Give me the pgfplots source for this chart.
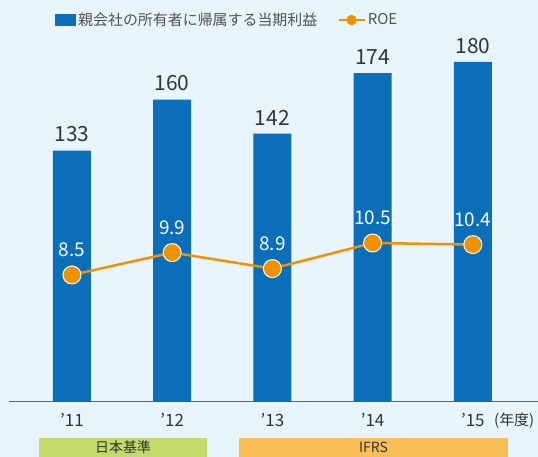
\documentclass[border=0pt]{standalone}
\usepackage{pgfplots}
\pgfplotsset{compat=1.18}
\usepackage{fontspec}
\setmainfont{Noto Sans CJK JP}
\definecolor{bg}{HTML}{E8F4FC}
\definecolor{barblue}{HTML}{0A6EB9}
\definecolor{roeor}{HTML}{F29100}
\definecolor{txt}{HTML}{333333}
\definecolor{jgreen}{HTML}{C2DB6B}
\definecolor{iorange}{HTML}{F9BF56}
\begin{document}
\begin{tikzpicture}[x=1bp,y=1bp]
\fill[bg] (0,0) rectangle (538,457);
\fill[jgreen] (39,0) rectangle (207,19);
\fill[iorange] (239,0) rectangle (508,19);
\node[txt,font=\fontsize{14}{16}\selectfont] at (123,9.5) {日本基準};
\node[txt,font=\fontsize{14}{16}\selectfont] at (373.5,9.5) {IFRS};
\pgfplotstableread{
x v
0 133
1 160
2 142
3 174
4 180
}\profit
\pgfplotstableread{
x r
0 8.5
1 9.9
2 8.9
3 10.5
4 10.4
}\roe
\begin{axis}[
  at={(9bp,55bp)}, anchor=south west,
  scale only axis, width=529bp, height=362bp,
  xmin=-0.628, xmax=4.65, ymin=0, ymax=191.6,
  axis x line=bottom, hide y axis,
  x axis line style={-, draw=gray!80!black, line width=1pt},
  xtick={0,1,2,3,4}, xticklabels={’11,’12,’13,’14,’15},
  major tick length=0pt,
  xticklabel style={txt, font=\fontsize{17}{19}\selectfont, yshift=-8bp},
  clip=false,
  legend style={at={(axis description cs:0.087,1.055)}, anchor=west, draw=none, fill=none,
    font=\fontsize{15}{17}\selectfont, text=txt!85, legend columns=2,
    /tikz/every even column/.append style={column sep=18bp}, inner xsep=0pt},
  legend cell align=left,
]
\addplot[ybar, bar width=38bp, fill=barblue, draw=none,
  nodes near coords, point meta=explicit symbolic,
  every node near coord/.append style={txt, font=\fontsize{21}{23}\selectfont, anchor=south, yshift=5bp},
  legend image code/.code={\fill[barblue] (0bp,-6bp) rectangle (21bp,6bp);}]
  table[x=x, y=v, meta=v] {\profit};
\addlegendentry{親会社の所有者に帰属する当期利益}
\addlegendimage{legend image code/.code={\draw[roeor, line width=2.5bp] (0bp,0bp) -- (26bp,0bp); \fill[roeor] (13bp,0bp) circle (5bp);}}
\addlegendentry{ROE}
\end{axis}
\begin{axis}[
  at={(9bp,55bp)}, anchor=south west,
  scale only axis, width=529bp, height=362bp,
  xmin=-0.628, xmax=4.65, ymin=0.56, ymax=23.19,
  hide x axis, hide y axis, clip=false,
]
\addplot[roeor, line width=2.5bp, mark=*, mark size=9bp,
  mark options={fill=roeor, draw=white, line width=1bp},
  nodes near coords, point meta=explicit symbolic,
  every node near coord/.append style={white, font=\fontsize{19}{21}\selectfont, anchor=south, yshift=14bp}]
  table[x=x, y=r, meta=r] {\roe};
\end{axis}
\node[txt,font=\fontsize{15}{17}\selectfont, anchor=west, inner sep=0pt] at (494,36) {(年度)};
\pgfresetboundingbox
\useasboundingbox (0,0) rectangle (538,457);
\end{tikzpicture}
\end{document}
